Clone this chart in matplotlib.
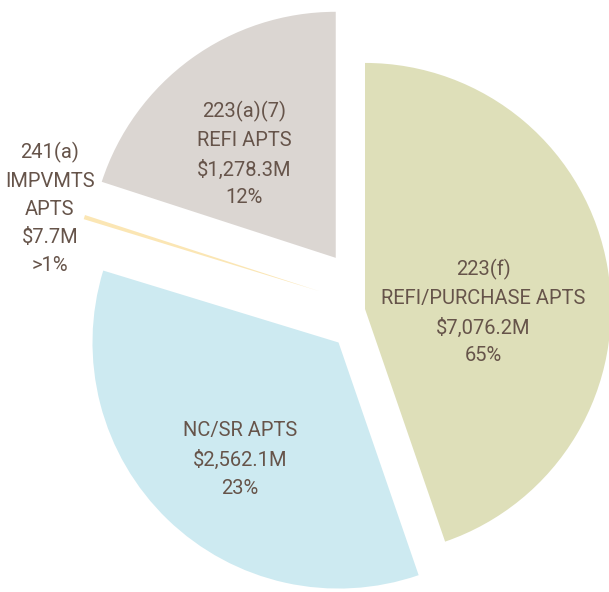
import matplotlib
matplotlib.use("Agg")
import matplotlib.pyplot as plt

# slice sizes as drawn (degrees of the circle)
names = ["223(f)\nREFI/PURCHASE APTS", "NC/SR APTS", "241(a)\nIMPVMTS\nAPTS", "223(a)(7)\nREFI APTS"]
amounts = ["$7,076.2M", "$2,562.1M", "$7.7M", "$1,278.3M"]
shares = ["65%", "23%", ">1%", "12%"]
sizes = [161, 126, 1, 72]

colors = ["#DEDFB9", "#CDEAF1", "#FBE6B4", "#DBD6D2"]
explode = [-0.029, 0.196, 0.226, 0.251]
label_xy = [(0.451, -0.017), (-0.537, -0.615), (-1.309, 0.402), (-0.520, 0.625)]
text_color = "#66544A"

fig = plt.figure(figsize=(6.09, 5.92), dpi=100)
ax = fig.add_axes([0, 0, 1, 1])

ax.pie(sizes, colors=colors, explode=explode, startangle=90,
       counterclock=False, radius=1.0, wedgeprops=dict(linewidth=0))

for name, amt, pct, (x, y) in zip(names, amounts, shares, label_xy):
    ax.text(x, y, name + "\n" + amt + "\n" + pct, ha="center", va="center",
            fontsize=14.5, color=text_color, linespacing=1.6,
            family=["Roboto", "DejaVu Sans"])

ax.set_xlim(-1.512, 0.963)
ax.set_ylim(-1.155, 1.251)
ax.set_aspect("equal")
ax.axis("off")

fig.savefig("out.png", dpi=100)
